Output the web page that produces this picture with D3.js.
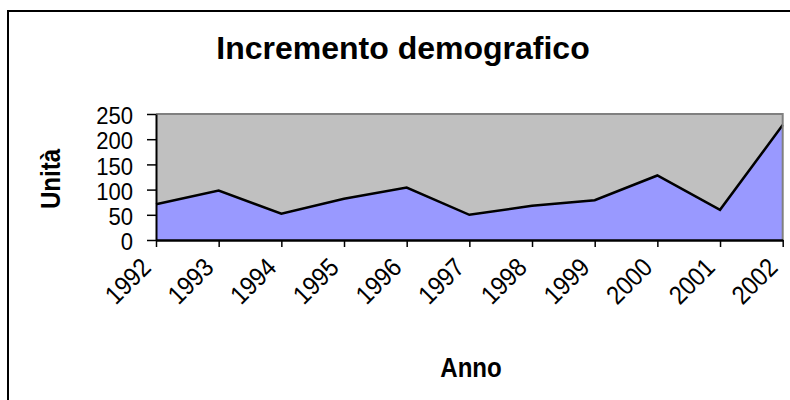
<!DOCTYPE html>
<html><head><meta charset="utf-8">
<script src="https://cdn.jsdelivr.net/npm/d3@7"></script>
<style>body{margin:0;background:#fff}svg{display:block}text{font-family:"Liberation Sans",Arial,sans-serif}</style>
</head><body>
<svg id="c" width="790" height="400"></svg>
<script>
const years = ["1992","1993","1994","1995","1996","1997","1998","1999","2000","2001","2002"];
const values = [71, 98, 52, 82, 104, 50, 68, 79, 128, 60, 228];
const yTicks = [0, 50, 100, 150, 200, 250];
const title = "Incremento demografico";
const xTitle = "Anno";
const yTitle = "Unità";

const svg = d3.select("#c");
const L = 156, R = 782.7, T = 114, B = 240;

svg.append("rect").attr("x", 8).attr("y", 11).attr("width", 800).attr("height", 400)
  .attr("fill", "#fff").attr("stroke", "#000").attr("stroke-width", 2);

const x = d3.scalePoint().domain(years).range([L, R]);
const y = d3.scaleLinear().domain([0, 250]).range([B, T]);

svg.append("rect").attr("x", L).attr("y", T).attr("width", R - L).attr("height", B - T).attr("fill", "#C0C0C0");

const area = d3.area().x((d, i) => x(years[i])).y0(B).y1(d => y(d));
const line = d3.line().x((d, i) => x(years[i])).y(d => y(d));
svg.append("path").datum(values).attr("d", area).attr("fill", "#9999FF");
svg.append("path").datum(values).attr("d", line).attr("fill", "none").attr("stroke", "#000").attr("stroke-width", 2.5).attr("stroke-linejoin", "miter");

svg.append("path").attr("d", `M${L},${T}H${R}V${B}`).attr("fill", "none").attr("stroke", "#808080").attr("stroke-width", 2);

const ya = svg.append("g").attr("transform", `translate(${L},0)`)
  .call(d3.axisLeft(y).tickValues(yTicks).tickSize(9).tickPadding(0).tickSizeOuter(0));
ya.select(".domain").attr("stroke", "#000").attr("stroke-width", 2);
ya.selectAll(".tick line").attr("stroke", "#000").attr("stroke-width", 1.5);
ya.selectAll(".tick text").attr("font-size", 24).attr("fill", "#000")
  .attr("font-family", "Liberation Sans, Arial, sans-serif")
  .attr("x", 0).attr("dy", "0.36em")
  .attr("transform", "translate(-23,1) scale(0.92,1)");

const xa = svg.append("g").attr("transform", `translate(0,${B})`)
  .call(d3.axisBottom(x).tickSize(7).tickSizeOuter(0));
xa.select(".domain").attr("stroke", "#000").attr("stroke-width", 2.5);
xa.selectAll(".tick line").attr("stroke", "#000").attr("stroke-width", 1.5);
xa.selectAll(".tick text").attr("font-size", 26).attr("fill", "#000")
  .attr("font-family", "Liberation Sans, Arial, sans-serif")
  .attr("text-anchor", "end").attr("y", 0).attr("dy", 0)
  .attr("transform", "translate(-4,29) rotate(-45) scale(0.9,1)");

svg.append("text").attr("x", 403).attr("y", 59).attr("text-anchor", "middle")
  .attr("font-size", 32).attr("font-weight", "bold").text(title);
svg.append("text").attr("transform", "translate(471,377) scale(0.86,1)").attr("text-anchor", "middle")
  .attr("font-size", 28).attr("font-weight", "bold").text(xTitle);
svg.append("text").attr("transform", "translate(60,179) rotate(-90) scale(0.86,1)").attr("text-anchor", "middle")
  .attr("font-size", 28).attr("font-weight", "bold").text(yTitle);
</script>
</body></html>
